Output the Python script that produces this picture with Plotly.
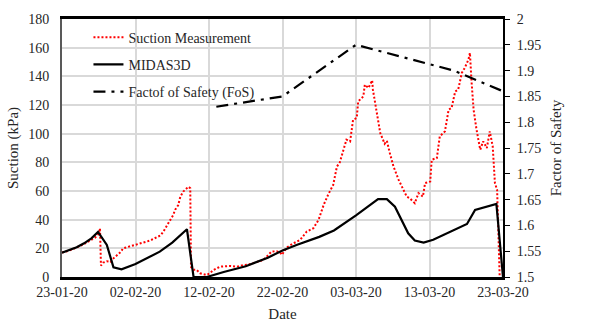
import pandas as pd
import plotly.graph_objects as go

start = pd.Timestamp("2020-01-23")

# Suction measurement (days since 23-01-20, kPa)
meas_day = [0, 0.5, 1.0, 1.5, 2.0, 2.5, 3.0, 3.5, 4.0, 4.5, 5.0, 5.17, 5.3, 5.6, 6.1, 6.6, 7.0, 7.5,
            8.0, 8.3, 9.0, 9.7, 10.2, 11.0, 11.5, 12.0, 12.9, 13.4, 13.8, 14.3, 14.7, 15.1, 15.4,
            15.8, 16.1, 16.5, 17.2, 17.45, 17.55, 17.9, 18.3, 18.8, 19.7, 20.2, 20.6, 21.5, 22.2,
            22.9, 23.8, 24.7, 25.3, 26.0, 26.7, 27.4, 28.0, 28.5, 29.2, 29.7, 29.9, 30.6, 31.5,
            32.4, 33.3, 34.2, 34.9, 35.6, 36.2, 36.9, 37.4, 37.8, 38.3, 38.7, 39.2, 39.6, 40.1,
            40.3, 41.0, 41.2, 41.7, 41.9, 42.2, 42.3, 42.8, 43.3, 43.9, 44.2, 44.6, 45.1, 45.8,
            46.4, 46.9, 47.3, 48.0, 48.5, 49.1, 49.4, 50.1, 50.3, 51.0, 51.4, 52.1, 52.6, 53.0,
            53.5, 53.9, 54.4, 54.8, 55.3, 55.5, 55.7, 56.0, 56.4, 56.9, 57.3, 57.8, 58.2, 58.6,
            58.9, 59.2, 59.55]
meas_val = [17, 17.5, 18.5, 19.5, 20.5, 21.5, 23, 24.5, 26, 27.5, 30, 34, 8, 10, 11, 10.5, 13, 15,
            17.5, 20, 21, 22, 22.4, 23.5, 24.7, 25.5, 27.5, 29, 31.7, 36, 38.7, 43, 47,
            50, 56, 59.6, 63, 62, 7, 5, 5, 2.6, 1.4, 3, 4.9, 7.2, 7.5,
            7.7, 7.2, 8.4, 8.5, 9.6, 10.5, 11.9, 15, 17.7, 18, 17, 15.4, 20.7, 23.5,
            25.9, 31.7, 34, 39.8, 50.3, 57.3, 64.3, 77, 80, 88.8, 95.8, 94.6, 109.7, 110.9,
            122.5, 126, 134.2, 131.9, 134.2, 137.2, 130.7, 116.7, 100.4, 93, 95, 86.5, 77.1, 67.8,
            60.8, 56.1, 55, 51.5, 58.5, 56.1, 65.5, 66.6, 81.8, 83, 98.1, 101.6, 116.7, 117.9,
            129.5, 130.7, 142.4, 145.9, 151.7, 156.4, 137.7, 116.7, 102.8, 88.8, 94.6, 89.9, 101.6, 91.1,
            65.5, 60.8, 0]

# MIDAS3D simulated suction
midas_day = [0, 1, 2, 3, 4, 4.9, 6.1, 7.0, 8.1, 10, 11.1, 13.3, 15, 17, 17.9, 19.7, 22, 25, 28,
             30, 32, 35, 37, 40, 43, 44.2, 45.3, 47.1, 48.0, 49.2, 50.5, 55.1, 56.2, 59.1, 60]
midas_val = [17, 18.8, 20.8, 23.5, 27, 31.5, 22.4, 6.8, 5.4, 9, 11.9, 17.7, 24, 33.3, 0, 0, 3.5, 7.5, 13.5,
             18.5, 22.5, 28, 32.5, 43, 54.3, 54.3, 49, 30.5, 25.4, 24, 26, 37, 46.8, 51, 0]

# Factor of Safety
fos_day = [21, 30, 40, 53.3, 60]
fos_val = [1.83, 1.85, 1.95, 1.90, 1.86]

def to_dates(days):
    return [start + pd.Timedelta(days=d) for d in days]

FONT = "'Liberation Serif', 'Times New Roman', Times, serif"
fig = go.Figure()
fig.add_trace(go.Scatter(x=to_dates(meas_day), y=meas_val, mode="lines", name="Suction Measurement",
                         line=dict(color="#ff0000", width=2, dash="2px,2px"), legendgroup="a"))
fig.add_trace(go.Scatter(x=to_dates(midas_day), y=midas_val, mode="lines", name="MIDAS3D",
                         line=dict(color="black", width=2.2), legendgroup="b"))
fig.add_trace(go.Scatter(x=to_dates(fos_day), y=fos_val, mode="lines", name="Factof of Safety (FoS)",
                         line=dict(color="black", width=2.2, dash="12px,6px,3px,6px"),
                         yaxis="y2", legendgroup="c"))

fig.update_layout(
    width=600, height=328,
    margin=dict(l=62, r=97, t=19, b=51),
    paper_bgcolor="white", plot_bgcolor="white",
    font=dict(family=FONT, size=14, color="#262626"),
    showlegend=True,
    legend=dict(x=0.06, y=0.99, xanchor="left", yanchor="top", bgcolor="rgba(0,0,0,0)",
                font=dict(family=FONT, size=14, color="#262626"), tracegroupgap=6,
                traceorder="grouped"),
    xaxis=dict(type="date", range=[start, start + pd.Timedelta(days=60)],
               tick0="2020-01-23", dtick=10 * 86400000, tickformat="%d-%m-%y",
               showgrid=True, gridcolor="#d9d9d9", gridwidth=1.5,
               showline=True, linecolor="black", linewidth=2.5, mirror=True,
               ticks="", automargin=False,
               title=dict(text="Date", standoff=10, font=dict(size=15)),
               tickfont=dict(size=14)),
    yaxis=dict(range=[0, 180], dtick=20, showgrid=True, gridcolor="#d9d9d9", gridwidth=1.5,
               showline=True, linecolor="#595959", linewidth=2, ticks="",
               ticklabelstandoff=8, automargin=False,
               title=dict(text="Suction (kPa)", standoff=6, font=dict(size=15)),
               tickfont=dict(size=14), zeroline=False),
    yaxis2=dict(range=[1.5, 2.0], dtick=0.05, overlaying="y", side="right", showgrid=False,
                showline=True, linecolor="black", linewidth=2, ticks="outside", ticklen=5,
                ticklabelstandoff=4, automargin=False,
                tickcolor="black", title=dict(text="Factor of Safety", standoff=10, font=dict(size=15)),
                tickfont=dict(size=14), zeroline=False),
)
fig.write_html("out.html")
